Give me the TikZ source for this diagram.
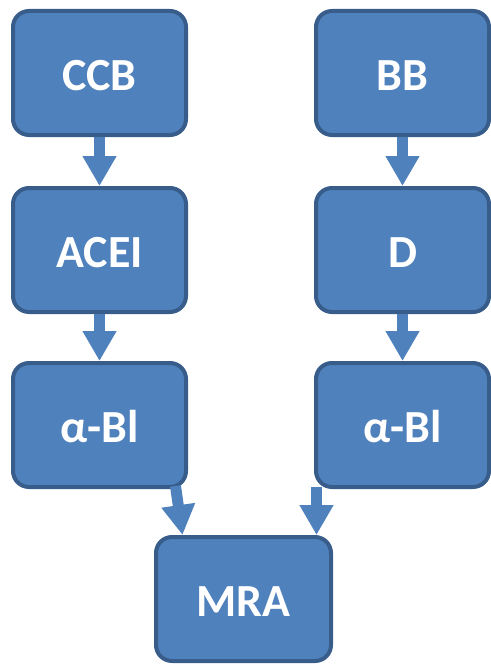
\documentclass[tikz,border=0pt]{standalone}
\usepackage{fontspec}
\setmainfont{Carlito}
\usetikzlibrary{arrows.meta,calc}
\definecolor{boxfill}{HTML}{4F81BD}
\definecolor{boxline}{HTML}{385D8A}
\newcommand\boxlbl[1]{\raisebox{-17.8pt}[0pt][0pt]{#1}}
\tikzset{
  drugbox/.style={draw=boxline, fill=boxfill, line width=4pt, rounded corners=16pt,
    minimum width=173pt, minimum height=124pt, inner sep=0pt,
    font=\fontsize{46}{50}\selectfont\bfseries, text=white},
  blockarr/.style={draw=boxfill, line width=11pt,
    -{Triangle[length=30pt 0 0, width=32pt 0 0]}}
}
\begin{document}
\begin{tikzpicture}[x=1pt,y=-1pt]
\useasboundingbox (0,0) rectangle (490,666);
\node[drugbox] (ccb)  at (99.5,73)  {\boxlbl{CCB}};
\node[drugbox] (bb)   at (402.5,73) {\boxlbl{BB}};
\node[drugbox] (acei) at (99.5,250) {\boxlbl{ACEI}};
\node[drugbox] (d)    at (402.5,250) {\boxlbl{D}};
\node[drugbox] (abl1) at (99.5,425) {\boxlbl{α-Bl}};
\node[drugbox] (abl2) at (402.5,425) {\boxlbl{α-Bl}};
\node[drugbox, minimum width=175pt] (mra) at (243.5,599) {\boxlbl{MRA}};
\coordinate (s1) at (175.5,486);
\coordinate (e1) at (182.5,535);
\coordinate (s2) at (316.5,487);
\coordinate (e2) at (316.5,535);
\draw[blockarr] (ccb.south) -- (acei.north);
\draw[blockarr] (acei.south) -- (abl1.north);
\draw[blockarr] (bb.south) -- (d.north);
\draw[blockarr] (d.south) -- (abl2.north);
\draw[blockarr] (s1) -- (e1);
\draw[blockarr] (s2) -- (e2);
\end{tikzpicture}
\end{document}
